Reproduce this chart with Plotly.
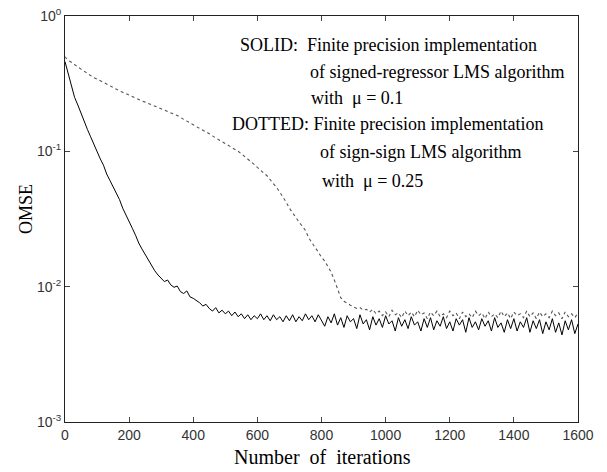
import plotly.graph_objects as go

iterations = list(range(0, 1601, 10))

solid_omse = [
    0.46, 0.38, 0.30, 0.25, 0.22, 0.19, 0.165, 0.145, 0.128, 0.112,
    0.098, 0.088, 0.079, 0.068, 0.061, 0.055, 0.049, 0.044, 0.038, 0.034,
    0.031, 0.027, 0.024, 0.021, 0.019, 0.0172, 0.0158, 0.0142, 0.0131, 0.0122,
    0.0116, 0.0109, 0.0112, 0.0103, 0.0099, 0.0101, 0.0092, 0.0089, 0.0093, 0.0084,
    0.0082, 0.0079, 0.0076, 0.0072, 0.0074, 0.0069, 0.0066, 0.0070, 0.0064, 0.0067,
    0.0063, 0.0066, 0.0061, 0.0065, 0.0060, 0.0063, 0.0058, 0.0062, 0.0057, 0.0061,
    0.0058, 0.0063, 0.0057, 0.0061, 0.0056, 0.0062, 0.0057, 0.0060, 0.0055, 0.0061,
    0.0056, 0.0062, 0.0055, 0.0060, 0.0056, 0.0063, 0.0057, 0.0061, 0.0055, 0.0062,
    0.0056,
    0.0051, 0.0060, 0.0054, 0.0063, 0.0052, 0.0059, 0.0050, 0.0061, 0.0055, 0.0058,
    0.0049, 0.0062, 0.0053, 0.0057, 0.0048, 0.0060, 0.0052, 0.0058, 0.0050, 0.0061,
    0.0053, 0.0056, 0.0047, 0.0059, 0.0051, 0.0057, 0.0049, 0.0060, 0.0052, 0.0055,
    0.0047, 0.0058, 0.0050, 0.0059, 0.0048, 0.0056, 0.0051, 0.0060, 0.0049, 0.0055,
    0.0047, 0.0058, 0.0052, 0.0057, 0.0046, 0.0059, 0.0050, 0.0055, 0.0048, 0.0058,
    0.0051, 0.0056, 0.0047, 0.0059, 0.0050, 0.0054, 0.0046, 0.0057, 0.0049, 0.0058,
    0.0047, 0.0055, 0.0050, 0.0059, 0.0046, 0.0056, 0.0049, 0.0057, 0.0045, 0.0055,
    0.0048, 0.0058, 0.0046, 0.0054, 0.0044, 0.0056, 0.0048, 0.0057, 0.0045, 0.0053,
]

dotted_omse = [
    0.50, 0.47, 0.455, 0.44, 0.42, 0.405, 0.39, 0.375, 0.365, 0.35,
    0.342, 0.332, 0.322, 0.312, 0.305, 0.296, 0.288, 0.280, 0.273, 0.266,
    0.259, 0.253, 0.248, 0.242, 0.236, 0.231, 0.226, 0.221, 0.216, 0.211,
    0.207, 0.203, 0.199, 0.194, 0.189, 0.184, 0.178, 0.173, 0.167, 0.162,
    0.157, 0.152, 0.148, 0.143, 0.139, 0.135, 0.130, 0.126, 0.122, 0.118,
    0.114, 0.111, 0.108, 0.104, 0.100, 0.096, 0.092, 0.088, 0.084, 0.080,
    0.076, 0.072, 0.069, 0.066, 0.062, 0.058, 0.054, 0.050, 0.046, 0.042,
    0.038, 0.035, 0.032, 0.030, 0.028, 0.026, 0.023, 0.021, 0.0195, 0.018,
    0.0165, 0.0155, 0.014, 0.0128, 0.0112, 0.0096, 0.0083, 0.0078, 0.0075, 0.0073,
    0.0071, 0.0069, 0.0070, 0.0067, 0.0068, 0.0065,
    0.0068, 0.0063, 0.0066, 0.0061, 0.0065, 0.0060, 0.0067, 0.0062, 0.0064, 0.0059,
    0.0066, 0.0061, 0.0065, 0.0060, 0.0067, 0.0062, 0.0064, 0.0058, 0.0065, 0.0061,
    0.0066, 0.0060, 0.0063, 0.0059, 0.0066, 0.0061, 0.0064, 0.0058, 0.0065, 0.0060,
    0.0063, 0.0059, 0.0066, 0.0061, 0.0064, 0.0058, 0.0065, 0.0060, 0.0063, 0.0059,
    0.0066, 0.0060, 0.0064, 0.0058, 0.0065, 0.0061, 0.0063, 0.0059, 0.0066, 0.0060,
    0.0064, 0.0058, 0.0065, 0.0060, 0.0063, 0.0059, 0.0066, 0.0061, 0.0064, 0.0058,
    0.0065, 0.0060, 0.0063, 0.0059, 0.0064,
]

x_ticks = [0, 200, 400, 600, 800, 1000, 1200, 1400, 1600]
y_tickvals = [0.001, 0.01, 0.1, 1]
y_ticktext = ["10<sup>-3</sup>", "10<sup>-2</sup>", "10<sup>-1</sup>", "10<sup>0</sup>"]

NB = "\u00a0"
notes = [
    ("SOLID:" + NB + NB + "Finite precision implementation", 238, 45),
    ("of signed-regressor LMS algorithm", 308, 72),
    ("with" + NB + NB + "\u03bc = 0.1", 309, 98),
    ("DOTTED: Finite precision implementation", 230, 124),
    ("of sign-sign LMS algorithm", 318, 152),
    ("with" + NB + NB + "\u03bc = 0.25", 320, 181),
]

W, H = 607, 472
L, R, T, B = 65, 578, 16, 422

fig = go.Figure()
fig.add_trace(go.Scatter(x=iterations, y=dotted_omse, mode="lines",
                         line=dict(color="#555555", width=1.1, dash="dot"),
                         showlegend=False))
fig.add_trace(go.Scatter(x=iterations, y=solid_omse, mode="lines",
                         line=dict(color="black", width=1.0),
                         showlegend=False))

serif = "Liberation Serif"
annots = []
for txt, px, py in notes:
    annots.append(dict(text=txt, x=(px - L) / (R - L), y=(B - py) / (B - T),
                       xref="paper", yref="paper", xanchor="left", yanchor="middle",
                       showarrow=False,
                       font=dict(family=serif, size=18, color="black")))
annots.append(dict(text="OMSE", x=(26 - L) / (R - L), y=(B - 209) / (B - T),
                   xref="paper", yref="paper", xanchor="center", yanchor="middle",
                   textangle=-90, showarrow=False,
                   font=dict(family=serif, size=18, color="black")))
annots.append(dict(text="Number" + NB + NB + "of" + NB + NB + "iterations",
                   x=(322 - L) / (R - L), y=(B - 457) / (B - T),
                   xref="paper", yref="paper", xanchor="center", yanchor="middle",
                   showarrow=False,
                   font=dict(family=serif, size=20, color="black")))

fig.update_layout(
    width=W, height=H,
    margin=dict(l=L, r=W - R, t=T, b=H - B, pad=0),
    paper_bgcolor="white", plot_bgcolor="white",
    annotations=annots,
    xaxis=dict(range=[0, 1600], tickvals=x_ticks, ticks="inside", ticklen=5,
               showline=True, linecolor="#222", linewidth=1, mirror="ticks",
               showgrid=False, zeroline=False, automargin=False,
               tickfont=dict(family="Liberation Sans", size=14, color="#333")),
    yaxis=dict(type="log", range=[-3, 0], tickvals=y_tickvals, ticktext=y_ticktext,
               ticks="inside", ticklen=5,
               showline=True, linecolor="#222", linewidth=1, mirror="ticks",
               showgrid=False, zeroline=False, automargin=False,
               tickfont=dict(family="Liberation Sans", size=14, color="#333")),
)

fig.write_html("out.html", config={"displayModeBar": False},
               post_script="document.body.style.margin='0';")
